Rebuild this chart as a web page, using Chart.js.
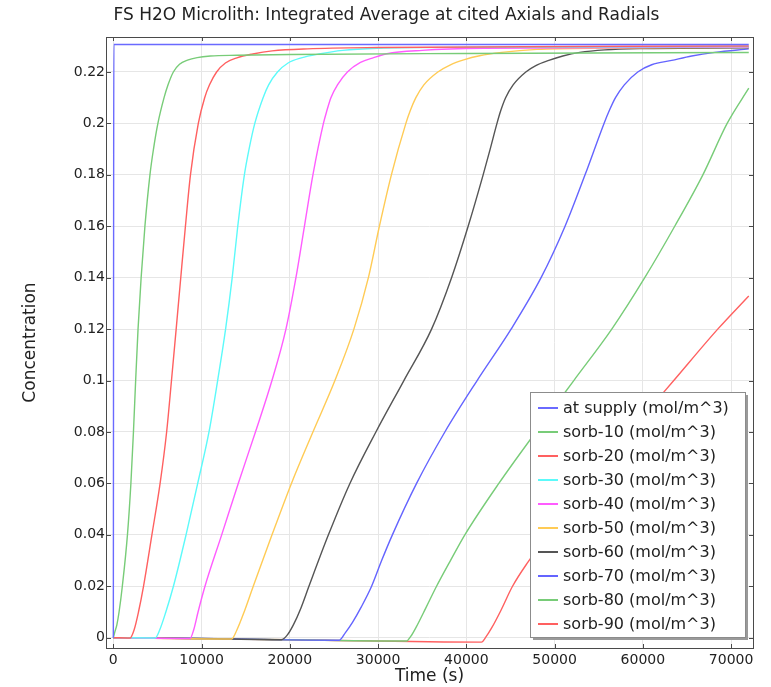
<!DOCTYPE html>
<html>
<head>
<meta charset="utf-8">
<title>FS H2O Microlith</title>
<script src="https://cdn.jsdelivr.net/npm/chart.js@4.4.1/dist/chart.umd.min.js"></script>
<style>
  html, body { margin: 0; padding: 0; background: #fff; }
  #wrap { width: 771px; height: 687px; }
</style>
</head>
<body>
<div id="wrap"><canvas id="chart" width="771" height="687"></canvas></div>
<script>
// Integrated average H2O concentration vs time, [time (s), mol/m^3]
const atSupply = [[0, 0], [60, 0.2307], [72000, 0.2307]];
const sorb10 = [[0, 0], [150, 0.002], [400, 0.005], [650, 0.01], [1020, 0.02], [1600, 0.04], [1990, 0.06],
  [2280, 0.08], [2530, 0.10], [2800, 0.12], [3150, 0.14], [3580, 0.16], [4150, 0.18], [4550, 0.19],
  [5050, 0.20], [5750, 0.21], [6200, 0.215], [6800, 0.22], [7500, 0.2230], [8400, 0.2246], [9500, 0.2256],
  [11000, 0.2262], [14000, 0.2265], [20000, 0.2268], [40000, 0.2272], [72000, 0.2276]];
const sorb20 = [[0, 0], [1900, -0.0001], [2350, 0.003], [2850, 0.01], [3420, 0.02], [4370, 0.04], [5300, 0.06],
  [6040, 0.08], [6590, 0.10], [7120, 0.12], [7640, 0.14], [8170, 0.16], [8740, 0.18], [9630, 0.20],
  [10350, 0.21], [10900, 0.215], [11700, 0.22], [12700, 0.2235], [14000, 0.2255], [15800, 0.2270],
  [18000, 0.2282], [22000, 0.2290], [30000, 0.2295], [72000, 0.2301]];
const sorb30 = [[0, 0], [4740, -0.0001], [5250, 0.003], [5950, 0.01], [6810, 0.02], [8240, 0.04], [9560, 0.06],
  [10840, 0.08], [11820, 0.10], [12720, 0.12], [13470, 0.14], [14100, 0.16], [14850, 0.18], [15380, 0.19],
  [16030, 0.20], [16970, 0.21], [17600, 0.215], [18600, 0.22], [19800, 0.2235], [21300, 0.2255],
  [23300, 0.2270], [26000, 0.2284], [30000, 0.2292], [40000, 0.2296], [72000, 0.2299]];
const sorb40 = [[0, 0], [8690, -0.0003], [9100, 0.003], [9600, 0.01], [10385, 0.02], [12276, 0.04],
  [14156, 0.06], [16104, 0.08], [17973, 0.10], [19558, 0.12], [20691, 0.14], [21653, 0.16], [22616, 0.18],
  [23805, 0.20], [24200, 0.205], [24654, 0.21], [25400, 0.215], [26523, 0.22], [28000, 0.2237],
  [29500, 0.2256], [31000, 0.2271], [35000, 0.2284], [42000, 0.2292], [72000, 0.2297]];
const sorb50 = [[0, 0], [13400, -0.0005], [14000, 0.003], [14820, 0.01], [15855, 0.02], [17979, 0.04],
  [20181, 0.06], [22616, 0.08], [25107, 0.10], [27259, 0.12], [28901, 0.14], [30147, 0.16], [31506, 0.18],
  [33148, 0.20], [33650, 0.205], [34280, 0.21], [35186, 0.215], [36772, 0.22], [38200, 0.2228],
  [39700, 0.2247], [41500, 0.2263], [44000, 0.2276], [48000, 0.2288], [56000, 0.2293], [72000, 0.2296]];
const sorb60 = [[0, 0], [10000, -0.0003], [19050, -0.0008], [19700, 0.001], [20400, 0.005], [21250, 0.0115],
  [22163, 0.02], [24372, 0.04], [26807, 0.06], [29751, 0.08], [32922, 0.10], [36059, 0.12], [38324, 0.14],
  [40204, 0.16], [41903, 0.18], [42700, 0.19], [43470, 0.20], [43900, 0.205], [44450, 0.21], [45300, 0.215],
  [46738, 0.22], [47871, 0.2225], [49343, 0.2245], [50929, 0.2262], [52854, 0.2276], [55685, 0.2286],
  [59649, 0.2291], [72000, 0.2294]];
const sorb70 = [[0, 0], [12000, -0.0004], [25594, -0.0010], [26300, 0.002], [27100, 0.006], [28100, 0.012],
  [29264, 0.02], [30400, 0.03], [31620, 0.04], [34360, 0.06], [37565, 0.08], [41219, 0.10], [45069, 0.12],
  [48467, 0.14], [51185, 0.16], [53450, 0.18], [55602, 0.20], [56200, 0.205], [56900, 0.21], [57900, 0.215],
  [59424, 0.22], [61000, 0.2228], [63274, 0.2245], [65539, 0.2262], [68144, 0.2276], [72000, 0.2290]];
const sorb80 = [[0, 0], [16000, -0.0006], [33227, -0.0013], [33700, 0.0005], [34300, 0.004], [35400, 0.0115],
  [36625, 0.02], [38200, 0.03], [39830, 0.04], [43680, 0.06], [47870, 0.08], [52173, 0.10], [56477, 0.12],
  [60214, 0.14], [63612, 0.16], [66800, 0.18], [69550, 0.20], [72000, 0.2137]];
const sorb90 = [[0, 0], [20000, -0.0008], [41720, -0.0017], [42200, 0.0002], [42900, 0.004], [43900, 0.0105],
  [45232, 0.02], [47000, 0.0295], [49117, 0.0395], [53647, 0.06], [58517, 0.08], [63500, 0.10],
  [68483, 0.12], [72000, 0.1329]];

const seriesLabels = ['at supply (mol/m^3)', 'sorb-10 (mol/m^3)', 'sorb-20 (mol/m^3)', 'sorb-30 (mol/m^3)',
  'sorb-40 (mol/m^3)', 'sorb-50 (mol/m^3)', 'sorb-60 (mol/m^3)', 'sorb-70 (mol/m^3)', 'sorb-80 (mol/m^3)',
  'sorb-90 (mol/m^3)'];
const seriesData = [atSupply, sorb10, sorb20, sorb30, sorb40, sorb50, sorb60, sorb70, sorb80, sorb90];
const seriesColors = ['#6a6aff', '#78cc78', '#ff6060', '#5cfafa', '#ff5cff', '#ffcb55', '#555555',
  '#6464ff', '#78cc78', '#ff6060'];

const xTicks = [0, 10000, 20000, 30000, 40000, 50000, 60000, 70000];
const yTicks = [0, 0.02, 0.04, 0.06, 0.08, 0.1, 0.12, 0.14, 0.16, 0.18, 0.2, 0.22];

const FONT = 'DejaVu Sans';

// frame around the plot with inward tick marks on all four sides
const framePlugin = {
  id: 'frame',
  afterDatasetsDraw(chart) {
    const { ctx, chartArea: a, scales } = chart;
    ctx.save();
    ctx.strokeStyle = '#4a4a4a';
    ctx.lineWidth = 1;
    ctx.beginPath();
    xTicks.forEach(v => {
      const x = Math.round(scales.x.getPixelForValue(v)) + 0.5;
      ctx.moveTo(x, a.bottom); ctx.lineTo(x, a.bottom - 4);
      ctx.moveTo(x, a.top); ctx.lineTo(x, a.top + 4);
    });
    yTicks.forEach(v => {
      const y = Math.round(scales.y.getPixelForValue(v)) + 0.5;
      ctx.moveTo(a.left, y); ctx.lineTo(a.left + 5, y);
      ctx.moveTo(a.right, y); ctx.lineTo(a.right - 4, y);
    });
    ctx.stroke();
    ctx.strokeRect(Math.round(a.left) + 0.5, Math.round(a.top) + 0.5,
      Math.round(a.right - a.left), Math.round(a.bottom - a.top));
    ctx.restore();
  }
};

// boxed legend in the lower right corner of the plot
const boxLegend = {
  id: 'boxLegend',
  afterDraw(chart) {
    const { ctx, chartArea: a } = chart;
    const w = 215, h = 245;
    const x0 = a.right - 8 - w, y0 = a.bottom - 11 - h;
    ctx.save();
    ctx.fillStyle = '#9a9a9a';
    ctx.fillRect(x0 + 3, y0 + 3, w, h);
    ctx.fillStyle = '#fff';
    ctx.fillRect(x0, y0, w, h);
    ctx.strokeStyle = '#8c8c8c';
    ctx.lineWidth = 1;
    ctx.strokeRect(x0 + 0.5, y0 + 0.5, w, h);
    ctx.font = '16px "' + FONT + '"';
    ctx.textBaseline = 'middle';
    chart.data.datasets.forEach((ds, i) => {
      const y = y0 + 16 + i * 24;
      ctx.strokeStyle = ds.borderColor;
      ctx.lineWidth = 2;
      ctx.beginPath();
      ctx.moveTo(x0 + 8, y); ctx.lineTo(x0 + 28, y);
      ctx.stroke();
      ctx.fillStyle = '#222';
      ctx.fillText(ds.label, x0 + 33, y + 1);
    });
    ctx.restore();
  }
};

new Chart(document.getElementById('chart'), {
  type: 'line',
  data: {
    datasets: seriesData.map((pts, i) => ({
      label: seriesLabels[i],
      data: pts.map(p => ({ x: p[0], y: p[1] })),
      borderColor: seriesColors[i],
      borderWidth: 1.4,
      pointRadius: 0,
      cubicInterpolationMode: 'monotone',
      fill: false
    }))
  },
  options: {
    responsive: false,
    animation: false,
    events: [],
    layout: { padding: { left: 20, right: 18, top: 0, bottom: 0 } },
    plugins: {
      legend: { display: false },
      tooltip: { enabled: false },
      title: {
        display: true,
        text: 'FS H2O Microlith: Integrated Average at cited Axials and Radials',
        align: 'center',
        color: '#222',
        font: { family: FONT, size: 17, weight: 'normal' },
        padding: { top: 5, bottom: 11.6 }
      }
    },
    scales: {
      x: {
        type: 'linear',
        min: -830,
        max: 72480,
        afterBuildTicks: axis => { axis.ticks = xTicks.map(v => ({ value: v })); },
        afterFit: axis => { axis.height = 39; },
        grid: { color: '#e6e6e6', drawTicks: false },
        border: { display: false },
        ticks: { color: '#222', padding: 4, maxRotation: 0, font: { family: FONT, size: 14 },
          callback: v => String(v) },
        title: { display: true, text: 'Time (s)', color: '#222', padding: { top: 0, bottom: 0 },
          font: { family: FONT, size: 17 } }
      },
      y: {
        type: 'linear',
        min: -0.0040,
        max: 0.2336,
        afterBuildTicks: axis => { axis.ticks = yTicks.map(v => ({ value: v })); },
        afterFit: axis => { axis.width = 86; },
        grid: { color: '#e6e6e6', drawTicks: false },
        border: { display: false },
        ticks: { color: '#222', padding: 1, font: { family: FONT, size: 14 },
          callback: v => String(+v.toFixed(2)) },
        title: { display: true, text: 'Concentration', color: '#222', padding: { top: 0, bottom: 0 },
          font: { family: FONT, size: 17 } }
      }
    }
  },
  plugins: [framePlugin, boxLegend]
});
</script>
</body>
</html>
